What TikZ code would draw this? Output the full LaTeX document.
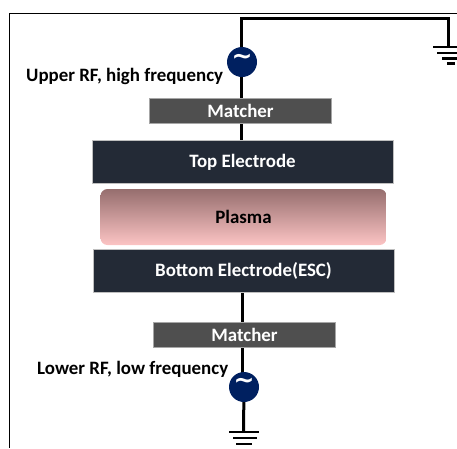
\documentclass[tikz,border=0pt]{standalone}
\usepackage{fontspec}
\setmainfont{Carlito}
\newfontfamily\symfont{DejaVu Sans}
\tikzset{
  wire/.style={line width=3pt,black},
  bar/.style={line width=2.4pt,black},
  labelfont/.style={font=\fontsize{18.9}{20}\selectfont\bfseries},
  matcher/.style={draw=gray!70,line width=0.4pt,fill=black!69,text=white,minimum width=182pt,minimum height=25pt,inner sep=0pt,labelfont},
  electrode/.style={draw=gray!50,line width=0.4pt,fill=elec,text=white,minimum width=301pt,minimum height=43pt,inner sep=0pt,labelfont},
  source/.style={circle,fill=navy,text=white,minimum size=30pt,inner sep=0pt},
  lbl/.style={inner sep=0pt,labelfont},
  tilde/.style={text=white,inner sep=0pt,font=\symfont\fontsize{25}{25}\selectfont\bfseries}
}
\definecolor{elec}{RGB}{35,42,54}
\definecolor{navy}{RGB}{0,32,96}
\definecolor{plasmatop}{RGB}{150,110,110}
\definecolor{plasmabot}{RGB}{252,196,196}
\begin{document}
\begin{tikzpicture}[x=1pt,y=-1pt]
\useasboundingbox (0,0) rectangle (457,448);
\begin{scope}
\clip (0,0) rectangle (457,448);
\draw[line width=0.8pt] (457,13.5) -- (9.5,13.5) -- (9.5,448);
\coordinate (corner1) at (241,18);
\coordinate (corner2) at (448,18);
\coordinate (gnd1) at (448,47);
\coordinate (gnd2) at (243.5,432);
\coordinate (up1) at (241,62);
\coordinate (up2) at (241,111);
\coordinate (up3) at (241,162);
\coordinate (low1) at (242.7,271);
\coordinate (low2) at (242.7,335);
\coordinate (low3) at (242.7,387);
\draw[wire] (up1) -- (corner1) -- (corner2) -- (gnd1);
\draw[wire] (up1) -- (up2) -- (up3);
\draw[wire] (low1) -- (low2) -- (low3);
\node[source] (upperrf) at (242,62) {};
\node[source] (lowerrf) at (244,387) {};
\draw[wire] (lowerrf) -- (gnd2);
\node[matcher] (match1) at (240.5,111) {Matcher};
\node[matcher] (match2) at (244.5,335) {Matcher};
\node[electrode] (top) at (242.5,162) {Top Electrode};
\node[electrode] (bottom) at (243.5,271) {Bottom Electrode(ESC)};
\node[rounded corners=7pt,top color=plasmatop,bottom color=plasmabot,minimum width=286pt,minimum height=56pt,inner sep=0pt,labelfont] (plasma) at (243.5,217) {Plasma};
\node[lbl,anchor=west] (upperlbl) at (26,76) {Upper RF, high frequency};
\node[lbl,anchor=west] (lowerlbl) at (37,369) {Lower RF, low frequency};
\node[tilde] (tilde1) at (242,59) {∼};
\node[tilde] (tilde2) at (244,383) {∼};
\draw[bar] (433,47) -- (457,47);
\draw[bar] (437,53) -- (457,53);
\draw[bar] (442,58.5) -- (457,58.5);
\draw[bar] (447,63.5) -- (455,63.5);
\draw[bar] (229,432) -- (259,432);
\draw[bar] (233,438) -- (257,438);
\draw[bar] (236,444) -- (252,444);
\end{scope}
\end{tikzpicture}
\end{document}
